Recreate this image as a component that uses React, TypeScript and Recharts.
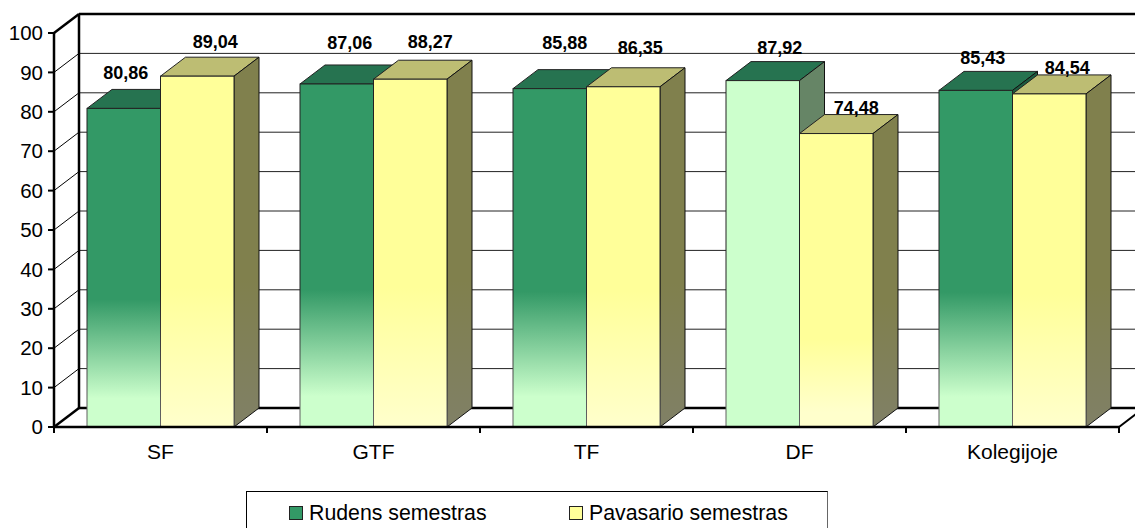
import React from 'react';
import { Bar, BarChart, CartesianGrid, LabelList, Legend, XAxis, YAxis } from 'recharts';

const categories = ['SF', 'GTF', 'TF', 'DF', 'Kolegijoje'];
const rudens = [80.86, 87.06, 85.88, 87.92, 85.43];
const pavasario = [89.04, 88.27, 86.35, 74.48, 84.54];
const yTicks = [0, 10, 20, 30, 40, 50, 60, 70, 80, 90, 100];

// the labels were dragged by hand in the original, so each has its own nudge
const rudensNudge = [[2, -35], [13, -41], [15, -46], [17, -33], [7, -32]];
const pavasarioNudge = [[18, -34], [20, -37], [17, -39], [20, -26], [18, -26]];

const data = categories.map((name, i) => ({ name, rudens: rudens[i], pavasario: pavasario[i] }));

const DX = 25;
const DY = -19;
const PALE_INDEX = 3; // DF autumn bar is washed out in the original
const FONT = 'Liberation Sans';

const Box3D = (props: any) => {
  const { x, y, width, height, index, kind } = props;
  const pale = kind === 'green' && index === PALE_INDEX;
  const front = kind === 'yellow' ? (index === PALE_INDEX ? 'url(#yellowLate)' : 'url(#yellowFront)') : pale ? '#ccffcc' : 'url(#greenFront)';
  const top = kind === 'yellow' ? '#bdbd73' : '#267350';
  const side = kind === 'yellow' ? 'url(#yellowSide)' : pale ? '#668566' : '#1c5c40';
  const r = x + width;
  const b = y + height;
  return (
    <g>
      <path d={`M${x},${y} L${x + DX},${y + DY} L${r + DX},${y + DY} L${r},${y} Z`} fill={top} stroke="#222" strokeWidth={1} />
      <path d={`M${r},${y} L${r + DX},${y + DY} L${r + DX},${b + DY} L${r},${b} Z`} fill={side} stroke="#111" strokeWidth={1} />
      <rect x={x} y={y} width={width} height={height} fill={front} stroke="url(#edge)" strokeWidth={1} />
    </g>
  );
};

const fmt = (v: number) => v.toFixed(2).replace('.', ',');

const barLabel = (nudges: number[][]) => (props: any) => {
  const { x, y, width, value, index } = props;
  const [nx, ny] = nudges[index];
  return (
    <text x={x + width / 2 + nx} y={y + ny} textAnchor="middle" dominantBaseline="central" fontFamily={FONT} fontWeight="bold" fontSize={18} fill="#000">
      {fmt(value)}
    </text>
  );
};

// grid lines sit on the back wall, and the wall frame hangs off the first and last one
const WallLine = (props: any) => {
  const { x1, x2, y1, index } = props;
  const by = y1 + DY;
  const bx = x1 + DX;
  const farX = x2 + 40;
  if (index === 0 || index === yTicks.length - 1) {
    const isFloor = y1 > 300;
    return (
      <g>
        <line x1={x1} y1={y1} x2={bx} y2={by} stroke="#000" strokeWidth={2.5} />
        <line x1={bx} y1={by} x2={farX} y2={by} stroke="#000" strokeWidth={2.5} />
        {isFloor && <line x1={x2} y1={y1} x2={x2 + DX} y2={by} stroke="#000" strokeWidth={2} />}
        {!isFloor && <line x1={bx} y1={by} x2={bx} y2={by + 394} stroke="#000" strokeWidth={2.5} />}
      </g>
    );
  }
  return (
    <g>
      <line x1={x1} y1={y1} x2={bx} y2={by} stroke="#000" strokeWidth={1} />
      <line x1={bx} y1={by} x2={farX} y2={by} stroke="#222" strokeWidth={1} />
    </g>
  );
};

// ticks fall between the categories, not under them
const CategoryTick = (props: any) => {
  const { x, y, width, payload, index, visibleTicksCount } = props;
  const step = width / visibleTicksCount;
  const left = payload.coordinate - step / 2;
  const right = payload.coordinate + step / 2;
  return (
    <g>
      <line x1={left} y1={y} x2={left} y2={y + 6} stroke="#000" strokeWidth={2} />
      {index === visibleTicksCount - 1 && <line x1={right} y1={y} x2={right} y2={y + 6} stroke="#000" strokeWidth={2} />}
      <text x={payload.coordinate} y={y + 24} textAnchor="middle" dominantBaseline="central" fontFamily={FONT} fontSize={21} fill="#000">
        {payload.value}
      </text>
    </g>
  );
};

const LegendBox = ({ payload }: any) => (
  <div style={{ boxSizing: 'border-box', position: 'relative', width: 582, height: 37, border: '1px solid #000', borderRightColor: '#666', borderBottom: 'none', fontFamily: FONT, fontSize: 21.3, color: '#000', background: '#fff' }}>
    {(payload || []).map((entry: any, i: number) => (
      <div key={entry.value} style={{ position: 'absolute', left: 42 + i * 280, top: 9, display: 'flex', alignItems: 'center', lineHeight: '24px', whiteSpace: 'nowrap' }}>
        <span style={{ boxSizing: 'border-box', width: 14, height: 14, background: entry.color, border: '1px solid #222', marginRight: 6 }} />
        <span>{entry.value}</span>
      </div>
    ))}
  </div>
);

export default function App() {
  return (
    <div style={{ position: 'absolute', left: 0, top: 0, background: '#fff' }}>
      <BarChart
        width={1135}
        height={528}
        data={data}
        margin={{ top: 33, right: 16, bottom: 0, left: 0 }}
        barSize={73.5}
        barGap={0}
        style={{ overflow: 'hidden' }}
      >
        <defs>
          <linearGradient id="greenFront" x1="0" y1="0" x2="0" y2="1">
            <stop offset="0.6" stopColor="#339966" />
            <stop offset="0.91" stopColor="#ccffcc" />
          </linearGradient>
          <linearGradient id="yellowFront" x1="0" y1="0" x2="0" y2="1">
            <stop offset="0.6" stopColor="#ffff99" />
            <stop offset="1" stopColor="#ffffcc" />
          </linearGradient>
          <linearGradient id="yellowLate" x1="0" y1="0" x2="0" y2="1">
            <stop offset="0.7" stopColor="#ffff99" />
            <stop offset="0.95" stopColor="#ffffcc" />
          </linearGradient>
          <linearGradient id="yellowSide" x1="0" y1="0" x2="0" y2="1">
            <stop offset="0.6" stopColor="#80804d" />
            <stop offset="1" stopColor="#808066" />
          </linearGradient>
          <linearGradient id="edge" x1="0" y1="0" x2="0" y2="1">
            <stop offset="0.6" stopColor="#222" />
            <stop offset="1" stopColor="#666" />
          </linearGradient>
        </defs>
        <CartesianGrid horizontal={(p: any) => <WallLine key={p.key} {...p} />} vertical={false} />
        <XAxis
          dataKey="name"
          height={64}
          interval={0}
          tickSize={0}
          tickMargin={0}
          tickLine={false}
          axisLine={{ stroke: '#000', strokeWidth: 2.5 }}
          tick={(p: any) => <CategoryTick {...p} />}
        />
        <YAxis
          domain={[0, 100]}
          ticks={yTicks}
          width={54}
          interval={0}
          tickSize={6}
          tickMargin={5}
          tickLine={{ stroke: '#000', strokeWidth: 2 }}
          axisLine={{ stroke: '#000', strokeWidth: 2.5 }}
          tick={{ fontFamily: FONT, fontSize: 20.5, fill: '#000' }}
        />
        <Legend
          content={<LegendBox />}
          itemSorter={null}
          wrapperStyle={{ left: 246, bottom: 0, width: 582, height: 37 }}
        />
        <Bar dataKey="rudens" name="Rudens semestras" fill="#339966" isAnimationActive={false} shape={(p: any) => <Box3D {...p} kind="green" />}>
          <LabelList dataKey="rudens" content={barLabel(rudensNudge)} />
        </Bar>
        <Bar dataKey="pavasario" name="Pavasario semestras" fill="#ffff99" isAnimationActive={false} shape={(p: any) => <Box3D {...p} kind="yellow" />}>
          <LabelList dataKey="pavasario" content={barLabel(pavasarioNudge)} />
        </Bar>
      </BarChart>
    </div>
  );
}
